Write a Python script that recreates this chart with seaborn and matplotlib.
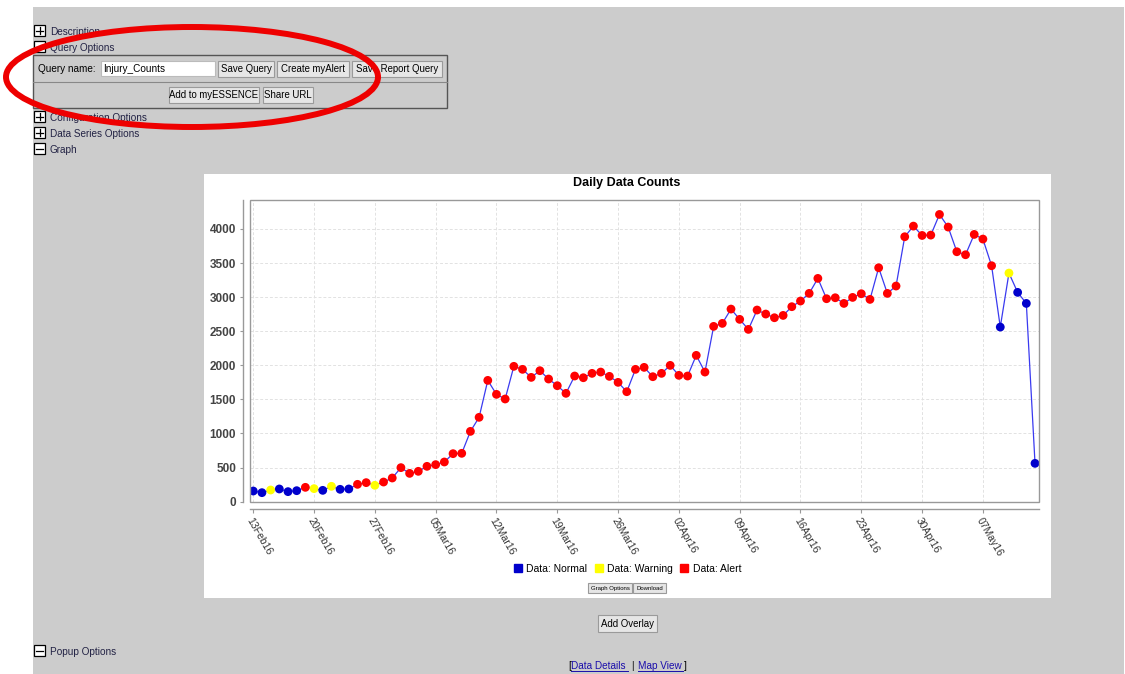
import pandas as pd
import numpy as np
import seaborn as sns
from matplotlib import pyplot as plt
from matplotlib.patches import Rectangle, Ellipse
from matplotlib.lines import Line2D
import matplotlib.dates as mdates

# daily counts, 13Feb16 .. 13May16
counts = [156, 132, 171, 186, 147, 161, 210, 191, 166, 225,
          181, 186, 254, 279, 240, 288, 347, 499, 415, 445,
          518, 543, 582, 704, 709, 1031, 1237, 1779, 1574, 1506,
          1985, 1941, 1823, 1921, 1799, 1701, 1589, 1843, 1818, 1882,
          1901, 1838, 1750, 1613, 1941, 1970, 1833, 1882, 1999, 1853,
          1843, 2146, 1901, 2571, 2615, 2825, 2674, 2527, 2811, 2752,
          2698, 2732, 2860, 2943, 3055, 3275, 2977, 2991, 2908, 2996,
          3050, 2967, 3431, 3055, 3163, 3886, 4042, 3905, 3910, 4213,
          4028, 3666, 3622, 3920, 3852, 3461, 2561, 3353, 3070, 2908, 562]
# N = normal, W = warning, A = alert
status = list("NNWNNNAWNWNNAAW") + ["A"] * 71 + list("NWNNN")
start_date = "2016-02-13"

labels = {"N": "Data: Normal", "W": "Data: Warning", "A": "Data: Alert"}
colors = {"Data: Normal": "#0000cc", "Data: Warning": "#ffff00", "Data: Alert": "#ff0000"}

df = pd.DataFrame({"date": pd.date_range(start_date, periods=len(counts)),
                   "count": counts,
                   "level": [labels[s] for s in status]})

W, H = 1125, 674
fig = plt.figure(figsize=(W / 100, H / 100), dpi=100)
fig.patch.set_facecolor("white")

# page layer in pixel coords
pg = fig.add_axes([0, 0, 1, 1])
pg.set_xlim(0, W)
pg.set_ylim(H, 0)
pg.axis("off")

FONT = "Liberation Sans"
FS = 7.2
pg.add_patch(Rectangle((33, 7), 1091, 667, fc="#cccccc", ec="none"))


def expander(y, text, plus=True):
    pg.add_patch(Rectangle((34, y - 6), 11, 11, fc="white", ec="black", lw=0.9))
    pg.plot([36, 43], [y - 0.5, y - 0.5], color="black", lw=0.9)
    if plus:
        pg.plot([39.5, 39.5], [y - 4, y + 3], color="black", lw=0.9)
    pg.text(50, y + 1, text, fontsize=FS, family=FONT, va="center", color="#222244")


def button(x0, x1, y0, y1, text, fs=6.9):
    pg.add_patch(Rectangle((x0, y0), x1 - x0, y1 - y0, fc="#e6e6e6", ec="#9a9a9a", lw=0.8))
    pg.text((x0 + x1) / 2, (y0 + y1) / 2 + 0.5, text, fontsize=fs, family=FONT,
            ha="center", va="center", color="black")


expander(31, "Description")
expander(47, "Query Options", plus=False)
pg.add_patch(Rectangle((33, 55), 414, 53, fc="none", ec="#555555", lw=1))
pg.plot([33, 447], [82, 82], color="#888888", lw=0.8)
pg.text(38, 69, "Query name:", fontsize=FS, family=FONT, va="center")
pg.add_patch(Rectangle((101, 61), 114, 15, fc="white", ec="#bbbbbb", lw=0.8))
pg.text(103, 69, "Injury_Counts", fontsize=FS, family=FONT, va="center")
button(218, 274, 61, 77, "Save Query")
button(277, 349, 61, 77, "Create myAlert")
button(352, 442, 61, 77, "Save Report Query")
button(169, 259, 87, 103, "Add to myESSENCE")
button(263, 313, 87, 103, "Share URL")
expander(117, "Configuration Options")
expander(133, "Data Series Options")
expander(149, "Graph", plus=False)

pg.add_patch(Ellipse((192, 77), 372, 100, fc="none", ec="#ee0000", lw=4.3, zorder=5))

# chart panel
pg.add_patch(Rectangle((204, 174), 847, 424, fc="white", ec="none"))
pg.text(627, 183, "Daily Data Counts", fontsize=9, family=FONT, weight="bold",
        ha="center", va="center")
button(588, 632, 583, 593, "Graph Options", fs=4.3)
button(633, 666, 583, 593, "Download", fs=4.3)

button(598, 657, 615, 632, "Add Overlay")
expander(651, "Popup Options", plus=False)
pg.text(568, 666, "[", fontsize=FS, family=FONT, va="center")
pg.text(571, 666, "Data Details", fontsize=FS, family=FONT, va="center", color="#1a0dab")
pg.plot([571, 628], [670.5, 670.5], color="#1a0dab", lw=0.7)
pg.text(631, 666, "|", fontsize=FS, family=FONT, va="center")
pg.text(638, 666, "Map View", fontsize=FS, family=FONT, va="center", color="#1a0dab")
pg.plot([638, 683], [670.5, 670.5], color="#1a0dab", lw=0.7)
pg.text(684, 666, "]", fontsize=FS, family=FONT, va="center")

# plot area
ax = fig.add_axes([250 / W, (H - 502) / H, (1039 - 250) / W, (502 - 200) / H])
ax.set_facecolor("white")

sns.lineplot(data=df, x="date", y="count", color="#3a3af0", lw=0.9, ax=ax, zorder=2)
sns.scatterplot(data=df, x="date", y="count", hue="level", palette=colors,
                s=40, linewidth=0, ax=ax, zorder=3, legend=False)

d0 = df["date"].iloc[0]
d1 = df["date"].iloc[-1]
ax.set_xlim(d0 - pd.Timedelta(hours=9), d1 + pd.Timedelta(hours=11))
ax.set_ylim(-5, 4425)
ax.set_yticks(range(0, 4001, 500))
ax.set_xticks(pd.date_range(start_date, d1, freq="7D"))
ax.xaxis.set_major_formatter(mdates.DateFormatter("%d%b%y"))

ax.grid(True, color="#e2e2e2", ls=(0, (3, 2)), lw=0.7)
ax.set_axisbelow(True)
ax.set_xlabel("")
ax.set_ylabel("")

for s in ["top", "right"]:
    ax.spines[s].set_visible(False)
ax.spines["left"].set_position(("outward", 5))
ax.spines["bottom"].set_position(("outward", 5))
for s in ["left", "bottom"]:
    ax.spines[s].set_color("#999999")
    ax.spines[s].set_linewidth(1)
ax.add_patch(Rectangle((0, 0), 1, 1, transform=ax.transAxes, fc="none",
                       ec="#999999", lw=1, clip_on=False, zorder=4))

ax.tick_params(axis="y", length=2, pad=3, color="#999999", labelsize=8.5, labelcolor="#444444")
ax.tick_params(axis="x", length=3, pad=2, color="#999999", labelsize=7.5, labelcolor="#333333")
for t in ax.get_yticklabels():
    t.set_fontweight("bold")
    t.set_family(FONT)
for t in ax.get_xticklabels():
    t.set_rotation(-60)
    t.set_ha("left")
    t.set_va("top")
    t.set_rotation_mode("anchor")
    t.set_family(FONT)

handles = [Line2D([], [], marker="s", ls="none", color=c, markersize=6, label=l)
           for l, c in colors.items()]
leg = fig.legend(handles=handles, loc="center", bbox_to_anchor=(627 / W, (H - 569) / H),
                 ncol=3, frameon=False, handletextpad=0.3, columnspacing=0.6,
                 prop={"family": FONT, "size": 7.5}, handlelength=1)

plt.savefig("out.png", dpi=100)
